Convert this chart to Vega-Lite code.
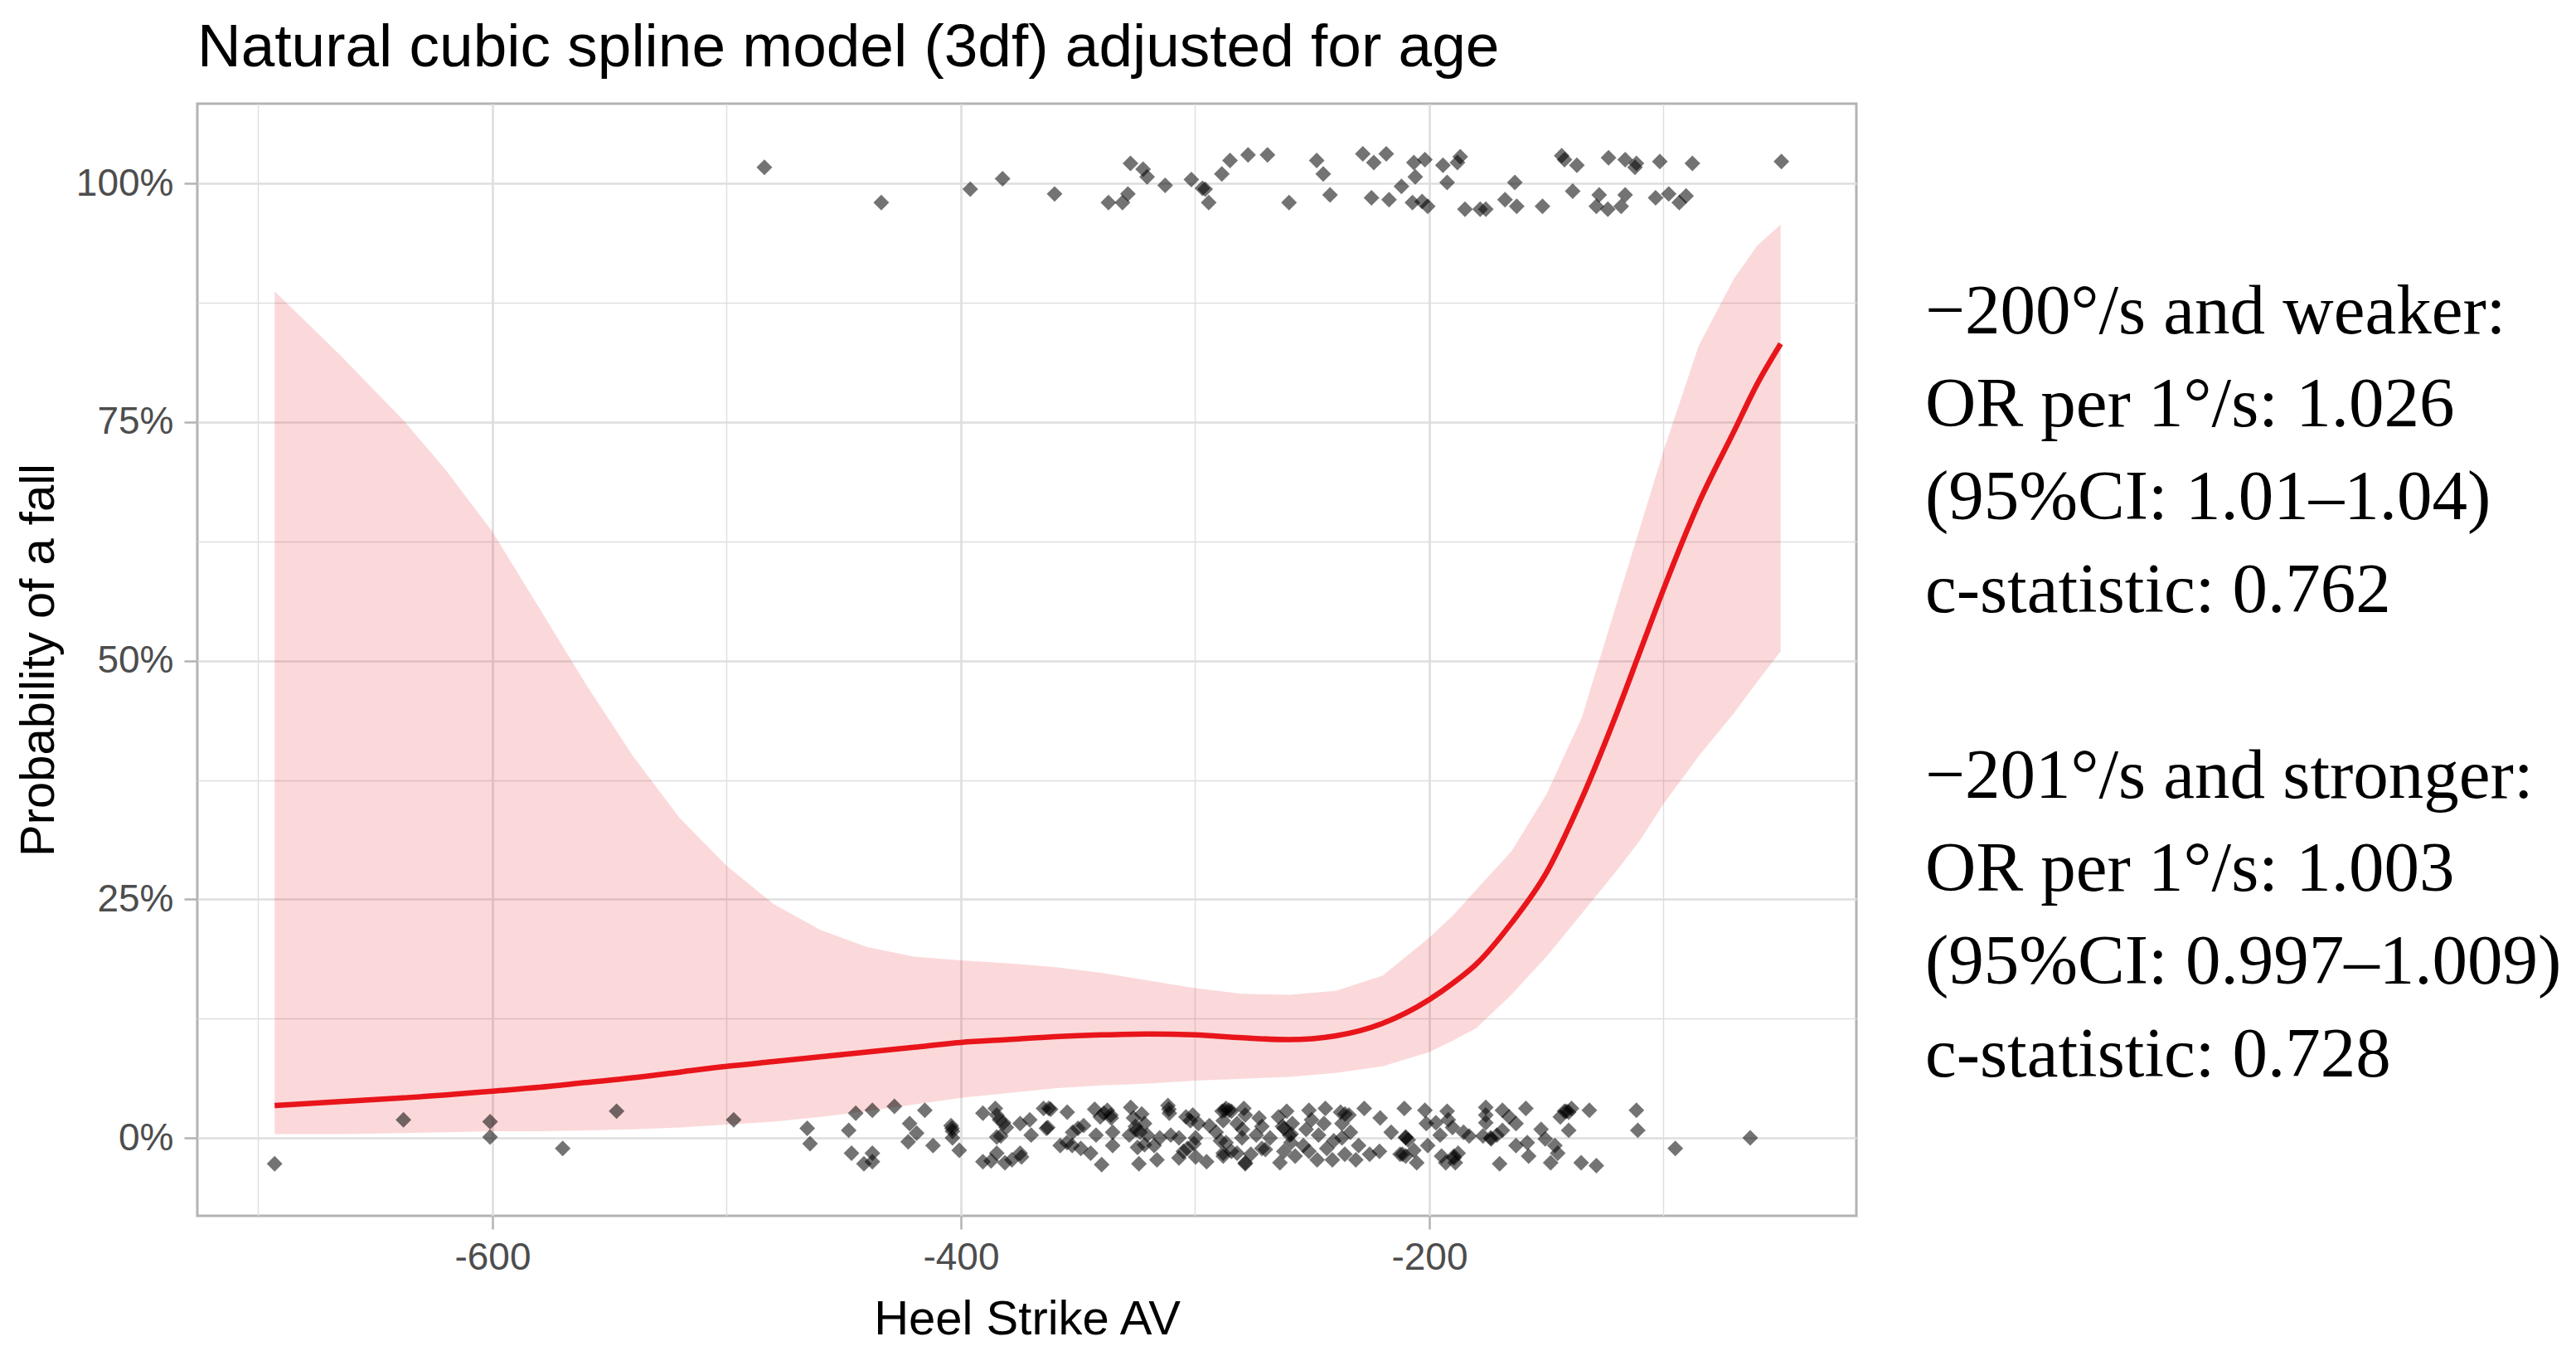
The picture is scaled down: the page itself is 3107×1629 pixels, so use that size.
{
  "$schema": "https://vega.github.io/schema/vega-lite/v6.json",
  "background": "white",
  "padding": {"left": 16, "top": 20, "right": 5, "bottom": 5},
  "config": {"font": "Liberation Sans"},
  "bounds": "flush",
  "spacing": 83,
  "datasets": {
    "curve": [
      {"x": -693, "lo": 0.004, "hi": 0.887, "fit": 0.034},
      {"x": -665, "lo": 0.004, "hi": 0.820, "fit": 0.038},
      {"x": -638, "lo": 0.005, "hi": 0.752, "fit": 0.042},
      {"x": -620, "lo": 0.006, "hi": 0.700, "fit": 0.045},
      {"x": -600, "lo": 0.007, "hi": 0.635, "fit": 0.049},
      {"x": -580, "lo": 0.007, "hi": 0.555, "fit": 0.053},
      {"x": -560, "lo": 0.008, "hi": 0.475, "fit": 0.058},
      {"x": -540, "lo": 0.009, "hi": 0.400, "fit": 0.063},
      {"x": -520, "lo": 0.011, "hi": 0.335, "fit": 0.069},
      {"x": -500, "lo": 0.014, "hi": 0.285, "fit": 0.075},
      {"x": -480, "lo": 0.017, "hi": 0.245, "fit": 0.080},
      {"x": -460, "lo": 0.022, "hi": 0.218, "fit": 0.085},
      {"x": -440, "lo": 0.028, "hi": 0.200, "fit": 0.090},
      {"x": -420, "lo": 0.035, "hi": 0.190, "fit": 0.095},
      {"x": -400, "lo": 0.042, "hi": 0.186, "fit": 0.100},
      {"x": -380, "lo": 0.047, "hi": 0.183, "fit": 0.103},
      {"x": -360, "lo": 0.052, "hi": 0.179, "fit": 0.106},
      {"x": -340, "lo": 0.055, "hi": 0.173, "fit": 0.108},
      {"x": -320, "lo": 0.057, "hi": 0.165, "fit": 0.109},
      {"x": -300, "lo": 0.060, "hi": 0.157, "fit": 0.108},
      {"x": -280, "lo": 0.062, "hi": 0.151, "fit": 0.105},
      {"x": -260, "lo": 0.064, "hi": 0.150, "fit": 0.103},
      {"x": -240, "lo": 0.068, "hi": 0.154, "fit": 0.107},
      {"x": -220, "lo": 0.075, "hi": 0.170, "fit": 0.120},
      {"x": -200, "lo": 0.090, "hi": 0.210, "fit": 0.145},
      {"x": -190, "lo": 0.102, "hi": 0.233, "fit": 0.162},
      {"x": -180, "lo": 0.115, "hi": 0.260, "fit": 0.182},
      {"x": -165, "lo": 0.150, "hi": 0.300, "fit": 0.225},
      {"x": -150, "lo": 0.190, "hi": 0.360, "fit": 0.278},
      {"x": -135, "lo": 0.235, "hi": 0.440, "fit": 0.355},
      {"x": -120, "lo": 0.280, "hi": 0.560, "fit": 0.445},
      {"x": -110, "lo": 0.312, "hi": 0.640, "fit": 0.510},
      {"x": -100, "lo": 0.350, "hi": 0.720, "fit": 0.575},
      {"x": -85, "lo": 0.400, "hi": 0.830, "fit": 0.665},
      {"x": -70, "lo": 0.445, "hi": 0.900, "fit": 0.740},
      {"x": -60, "lo": 0.478, "hi": 0.935, "fit": 0.790},
      {"x": -50, "lo": 0.510, "hi": 0.957, "fit": 0.832}
    ],
    "points": [
      {"x": -483.9, "y": 1.017}, {"x": -434, "y": 0.980}, {"x": -396, "y": 0.994}, {"x": -382.2, "y": 1.005},
      {"x": -360, "y": 0.989}, {"x": -337, "y": 0.980}, {"x": -331, "y": 0.980}, {"x": -328.7, "y": 0.989},
      {"x": -327.6, "y": 1.021}, {"x": -322.2, "y": 1.015}, {"x": -320.5, "y": 1.007}, {"x": -312.8, "y": 0.998},
      {"x": -301.6, "y": 1.004}, {"x": -296.9, "y": 0.995}, {"x": -295.7, "y": 0.994}, {"x": -294.2, "y": 0.980},
      {"x": -288.6, "y": 1.010}, {"x": -285.1, "y": 1.024}, {"x": -277.4, "y": 1.030}, {"x": -269.1, "y": 1.030},
      {"x": -259.9, "y": 0.980}, {"x": -248.1, "y": 1.024}, {"x": -245.3, "y": 1.010}, {"x": -242.4, "y": 0.988},
      {"x": -228.4, "y": 1.031}, {"x": -223.7, "y": 1.022}, {"x": -218.4, "y": 1.031}, {"x": -224.7, "y": 0.985},
      {"x": -217.2, "y": 0.983}, {"x": -211.9, "y": 0.997}, {"x": -206.6, "y": 1.022}, {"x": -206, "y": 1.007},
      {"x": -201.9, "y": 1.025}, {"x": -207.2, "y": 0.980}, {"x": -203.1, "y": 0.981}, {"x": -200.7, "y": 0.976},
      {"x": -194.2, "y": 1.019}, {"x": -188, "y": 1.022}, {"x": -186.8, "y": 1.028}, {"x": -192.4, "y": 1.001},
      {"x": -184.8, "y": 0.973}, {"x": -178.3, "y": 0.973}, {"x": -175.9, "y": 0.973}, {"x": -167.7, "y": 0.983},
      {"x": -163.5, "y": 1.001}, {"x": -162.7, "y": 0.976}, {"x": -151.7, "y": 0.976}, {"x": -143.5, "y": 1.029},
      {"x": -142.3, "y": 1.025}, {"x": -137, "y": 1.019}, {"x": -138.8, "y": 0.992}, {"x": -127.5, "y": 0.988},
      {"x": -128.7, "y": 0.976}, {"x": -123.5, "y": 1.027}, {"x": -116.4, "y": 1.025}, {"x": -111.6, "y": 1.021},
      {"x": -112.2, "y": 1.017}, {"x": -101.6, "y": 1.023}, {"x": -87.7, "y": 1.021}, {"x": -49.7, "y": 1.023},
      {"x": -123.8, "y": 0.973}, {"x": -118.1, "y": 0.976}, {"x": -116.4, "y": 0.988}, {"x": -103.4, "y": 0.985},
      {"x": -97.8, "y": 0.989}, {"x": -93.3, "y": 0.980}, {"x": -90.4, "y": 0.987},

      {"x": -693, "y": -0.027}, {"x": -638, "y": 0.019}, {"x": -601, "y": 0.017}, {"x": -601, "y": 0.001},
      {"x": -570, "y": -0.011}, {"x": -547, "y": 0.028}, {"x": -497, "y": 0.019}, {"x": -95, "y": -0.011},
      {"x": -63, "y": 0.000},

      {"x": -465.6, "y": 0.010}, {"x": -464.4, "y": -0.006}, {"x": -447.9, "y": 0.008}, {"x": -444.9, "y": 0.026},
      {"x": -437.8, "y": 0.029}, {"x": -446.7, "y": -0.016}, {"x": -441.4, "y": -0.027}, {"x": -437.8, "y": -0.016},
      {"x": -437.8, "y": -0.025}, {"x": -428.4, "y": 0.033}, {"x": -421.9, "y": 0.015}, {"x": -418.9, "y": 0.005},
      {"x": -422.5, "y": -0.004}, {"x": -415.4, "y": 0.029}, {"x": -411.9, "y": -0.008}, {"x": -404.2, "y": 0.013},
      {"x": -403.6, "y": 0.007}, {"x": -403.6, "y": 0.000}, {"x": -400.7, "y": -0.013},
      {"x": -390.6, "y": 0.026}, {"x": -385.3, "y": 0.031}, {"x": -384.7, "y": 0.024}, {"x": -381.8, "y": 0.016},
      {"x": -380.6, "y": 0.011}, {"x": -384.7, "y": 0.001}, {"x": -374.7, "y": 0.015}, {"x": -370.6, "y": 0.019},
      {"x": -370.0, "y": 0.003}, {"x": -362.9, "y": 0.011}, {"x": -364.7, "y": 0.031}, {"x": -361.7, "y": 0.030},
      {"x": -354.6, "y": 0.027}, {"x": -390.6, "y": -0.025}, {"x": -387.1, "y": -0.024}, {"x": -384.7, "y": -0.016},
      {"x": -381.2, "y": -0.026}, {"x": -378.2, "y": -0.023}, {"x": -374.7, "y": -0.016}, {"x": -374.1, "y": -0.020},
      {"x": -357.6, "y": -0.008}, {"x": -354.7, "y": -0.005}, {"x": -352.3, "y": 0.006}, {"x": -350.0, "y": 0.010},
      {"x": -347.6, "y": 0.013}, {"x": -348.8, "y": -0.011}, {"x": -344.6, "y": -0.016}, {"x": -342.9, "y": 0.030},
      {"x": -340.5, "y": 0.022}, {"x": -337.5, "y": 0.029}, {"x": -335.8, "y": 0.021}, {"x": -335.2, "y": 0.006},
      {"x": -342.3, "y": 0.003}, {"x": -335.2, "y": -0.008}, {"x": -339.9, "y": -0.028}, {"x": -327.5, "y": 0.032},
      {"x": -326.3, "y": 0.021}, {"x": -322.8, "y": 0.025}, {"x": -321.6, "y": 0.015}, {"x": -328.1, "y": 0.003},
      {"x": -325.1, "y": 0.008}, {"x": -320.4, "y": 0.003}, {"x": -324.6, "y": -0.010}, {"x": -321.6, "y": -0.007},
      {"x": -317.5, "y": -0.008}, {"x": -324.0, "y": -0.027}, {"x": -316.3, "y": -0.023}, {"x": -311.6, "y": 0.034},
      {"x": -311.0, "y": 0.026}, {"x": -315.1, "y": 0.000}, {"x": -310.4, "y": 0.003}, {"x": -306.9, "y": 0.000},
      {"x": -303.9, "y": 0.022}, {"x": -301.0, "y": 0.024}, {"x": -298.6, "y": 0.015}, {"x": -299.8, "y": 0.000},
      {"x": -303.3, "y": -0.011}, {"x": -306.9, "y": -0.021}, {"x": -299.8, "y": -0.020}, {"x": -295.1, "y": -0.025},
      {"x": -293.9, "y": 0.013}, {"x": -291.0, "y": 0.006}, {"x": -289.2, "y": -0.003}, {"x": -287.4, "y": 0.029},
      {"x": -288.0, "y": -0.016},
      {"x": -403.8, "y": 0.010}, {"x": -383.5, "y": 0.019}, {"x": -383, "y": 0.002}, {"x": -363.5, "y": 0.010},
      {"x": -362.5, "y": 0.031}, {"x": -352.5, "y": -0.008}, {"x": -339, "y": 0.026}, {"x": -336, "y": 0.024},
      {"x": -325.5, "y": 0.012}, {"x": -323.5, "y": 0.006}, {"x": -311.2, "y": 0.030}, {"x": -302, "y": 0.018},
      {"x": -300.5, "y": -0.006}, {"x": -305, "y": -0.014}, {"x": -288.5, "y": 0.028},

      {"x": -286.8, "y": 0.031}, {"x": -288.0, "y": 0.018}, {"x": -284.5, "y": 0.028}, {"x": -279.2, "y": 0.031},
      {"x": -278.6, "y": 0.024}, {"x": -279.8, "y": 0.009}, {"x": -282.1, "y": 0.015}, {"x": -272.7, "y": 0.021},
      {"x": -271.5, "y": 0.012}, {"x": -273.9, "y": 0.003}, {"x": -286.8, "y": -0.005}, {"x": -284.5, "y": -0.014},
      {"x": -288.0, "y": -0.019}, {"x": -282.1, "y": -0.016}, {"x": -278.6, "y": -0.027}, {"x": -276.2, "y": -0.017},
      {"x": -271.5, "y": -0.011}, {"x": -268.0, "y": 0.000}, {"x": -264.4, "y": 0.022}, {"x": -260.9, "y": 0.028},
      {"x": -262.7, "y": 0.012}, {"x": -258.5, "y": 0.015}, {"x": -259.7, "y": 0.003}, {"x": -259.1, "y": -0.005},
      {"x": -262.1, "y": -0.014}, {"x": -263.8, "y": -0.026}, {"x": -257.3, "y": -0.019}, {"x": -253.8, "y": -0.008},
      {"x": -251.4, "y": 0.029}, {"x": -250.3, "y": 0.019}, {"x": -252.6, "y": 0.009}, {"x": -247.3, "y": 0.003},
      {"x": -244.4, "y": 0.031}, {"x": -245.0, "y": 0.015}, {"x": -247.9, "y": -0.023}, {"x": -251.4, "y": -0.014},
      {"x": -243.8, "y": -0.011}, {"x": -240.8, "y": -0.003}, {"x": -237.9, "y": 0.027}, {"x": -234.3, "y": 0.024},
      {"x": -237.3, "y": 0.015}, {"x": -237.3, "y": 0.000}, {"x": -233.7, "y": 0.006}, {"x": -241.4, "y": -0.023},
      {"x": -236.1, "y": -0.017}, {"x": -231.4, "y": -0.023}, {"x": -230.2, "y": -0.008}, {"x": -225.5, "y": -0.017},
      {"x": -221.3, "y": -0.014}, {"x": -227.8, "y": 0.031}, {"x": -221.0, "y": 0.021},
      {"x": -216.3, "y": 0.006}, {"x": -210.7, "y": 0.031}, {"x": -210.1, "y": 0.000}, {"x": -209.0, "y": -0.002},
      {"x": -212.5, "y": -0.017}, {"x": -210.1, "y": -0.019}, {"x": -206.6, "y": -0.013}, {"x": -205.4, "y": -0.026},
      {"x": -201.9, "y": 0.029}, {"x": -201.3, "y": 0.015}, {"x": -200.7, "y": -0.008}, {"x": -197.2, "y": 0.016},
      {"x": -195.4, "y": 0.003}, {"x": -192.4, "y": 0.028}, {"x": -191.9, "y": 0.019}, {"x": -190.1, "y": 0.011},
      {"x": -194.8, "y": -0.019}, {"x": -193.0, "y": -0.026}, {"x": -189.5, "y": -0.019}, {"x": -188.9, "y": -0.026},
      {"x": -187.7, "y": -0.016}, {"x": -185.4, "y": 0.006}, {"x": -183.0, "y": 0.002},
      {"x": -175.9, "y": 0.032}, {"x": -175.9, "y": 0.024}, {"x": -175.9, "y": 0.016}, {"x": -177.1, "y": 0.002},
      {"x": -173.6, "y": -0.001}, {"x": -171.2, "y": 0.003}, {"x": -168.8, "y": 0.008}, {"x": -170.0, "y": -0.027},
      {"x": -168.8, "y": 0.029}, {"x": -165.9, "y": 0.022}, {"x": -163.0, "y": 0.015}, {"x": -163.0, "y": -0.008},
      {"x": -158.8, "y": 0.031}, {"x": -158.2, "y": -0.005}, {"x": -157.6, "y": -0.019}, {"x": -152.3, "y": 0.009},
      {"x": -150.5, "y": -0.001}, {"x": -148.2, "y": -0.026}, {"x": -146.4, "y": -0.008}, {"x": -145.2, "y": -0.016},
      {"x": -144.1, "y": 0.022}, {"x": -142.3, "y": 0.028}, {"x": -140.5, "y": 0.027}, {"x": -139.3, "y": 0.031},
      {"x": -140.5, "y": 0.008}, {"x": -135.2, "y": -0.026}, {"x": -131.7, "y": 0.029}, {"x": -128.7, "y": -0.029},
      {"x": -111.6, "y": 0.029}, {"x": -111.0, "y": 0.008},
      {"x": -285.5, "y": 0.029}, {"x": -278.6, "y": -0.026}, {"x": -262, "y": 0.010}, {"x": -259, "y": 0.004},
      {"x": -236, "y": 0.025}, {"x": -210.1, "y": 0.001}, {"x": -211.5, "y": -0.017}, {"x": -189.5, "y": -0.021},
      {"x": -173.8, "y": 0.000}, {"x": -141.5, "y": 0.028}, {"x": -270, "y": -0.012}, {"x": -280, "y": 0.000}
    ],
    "notes": [
      {"col": 0, "line": 1, "label": "−200°/s and weaker:"},
      {"col": 0, "line": 2, "label": "OR per 1°/s: 1.026"},
      {"col": 0, "line": 3, "label": "(95%CI: 1.01–1.04)"},
      {"col": 0, "line": 4, "label": "c-statistic: 0.762"},
      {"col": 0, "line": 6, "label": "−201°/s and stronger:"},
      {"col": 0, "line": 7, "label": "OR per 1°/s: 1.003"},
      {"col": 0, "line": 8, "label": "(95%CI: 0.997–1.009)"},
      {"col": 0, "line": 9, "label": "c-statistic: 0.728"}
    ]
  },
  "hconcat": [
    {
      "width": 2001,
      "height": 1341,
      "view": {"stroke": "#B3B3B3", "strokeWidth": 3},
      "title": {
        "text": "Natural cubic spline model (3df) adjusted for age",
        "anchor": "start",
        "frame": "group",
        "font": "Liberation Sans",
        "fontSize": 73,
        "fontWeight": "normal",
        "color": "#000000",
        "baseline": "alphabetic",
        "offset": -28
      },
      "encoding": {
        "x": {
          "field": "x",
          "type": "quantitative",
          "title": "Heel Strike AV",
          "scale": {"domain": [-726, -17.7], "nice": false, "zero": false},
          "axis": {
            "values": [-700, -600, -500, -400, -300, -200, -100],
            "labelExpr": "datum.value % 200 == 0 ? '' + datum.value : ''",
            "domain": false,
            "tickColor": "#B3B3B3",
            "tickWidth": 2.5,
            "tickSize": 16,
            "tickOpacity": {"condition": {"test": "datum.value % 200 != 0", "value": 0}, "value": 1},
            "gridColor": "#DEDEDE",
            "gridWidth": {"condition": {"test": "datum.value % 200 != 0", "value": 1.4}, "value": 2.6},
            "labelFont": "Liberation Sans",
            "labelFontSize": 46,
            "labelColor": "#4D4D4D",
            "labelPadding": 12,
            "titleFont": "Liberation Sans",
            "titleFontSize": 58,
            "titleFontWeight": "normal",
            "titleColor": "#000000",
            "titlePadding": 23
          }
        }
      },
      "layer": [
        {
          "data": {"name": "curve"},
          "mark": {"type": "area", "color": "#E8151B", "opacity": 0.16},
          "encoding": {
            "y": {
              "field": "lo",
              "type": "quantitative",
              "title": "Probability of a fall",
              "scale": {"domain": [-0.0816, 1.0836], "nice": false, "zero": false},
              "axis": {
                "values": [0, 0.125, 0.25, 0.375, 0.5, 0.625, 0.75, 0.875, 1],
                "labelExpr": "(datum.value * 1000) % 250 == 0 ? format(datum.value, '.0%') : ''",
                "domain": false,
                "tickColor": "#B3B3B3",
                "tickWidth": 2.5,
                "tickSize": 16,
                "tickOpacity": {"condition": {"test": "(datum.value * 1000) % 250 != 0", "value": 0}, "value": 1},
                "gridColor": "#DEDEDE",
                "gridWidth": {"condition": {"test": "(datum.value * 1000) % 250 != 0", "value": 1.4}, "value": 2.6},
                "labelFont": "Liberation Sans",
                "labelFontSize": 46,
                "labelColor": "#4D4D4D",
                "labelPadding": 13,
                "titleFont": "Liberation Sans",
                "titleFontSize": 58,
                "titleFontWeight": "normal",
                "titleColor": "#000000",
                "titlePadding": 15
              }
            },
            "y2": {"field": "hi"}
          }
        },
        {
          "data": {"name": "curve"},
          "mark": {"type": "line", "color": "#E8151B", "strokeWidth": 6.5, "interpolate": "monotone"},
          "encoding": {
            "y": {"field": "fit", "type": "quantitative", "title": "Probability of a fall"}
          }
        },
        {
          "data": {"name": "points"},
          "mark": {"type": "point", "shape": "diamond", "filled": true, "size": 360, "color": "#000000", "opacity": 0.55, "strokeWidth": 0},
          "encoding": {
            "y": {"field": "y", "type": "quantitative", "title": "Probability of a fall"}
          }
        }
      ]
    },
    {
      "width": 780,
      "height": 1341,
      "view": {"stroke": null},
      "data": {"name": "notes"},
      "mark": {"type": "text", "font": "Liberation Serif", "fontSize": 85, "align": "left", "baseline": "alphabetic", "color": "#000000"},
      "encoding": {
        "x": {"field": "col", "type": "quantitative", "scale": {"domain": [0, 1], "nice": false}, "axis": null},
        "y": {"field": "line", "type": "quantitative", "scale": {"domain": [-1.473, 10.5], "nice": false, "zero": false, "reverse": true}, "axis": null},
        "text": {"field": "label"}
      }
    }
  ]
}
